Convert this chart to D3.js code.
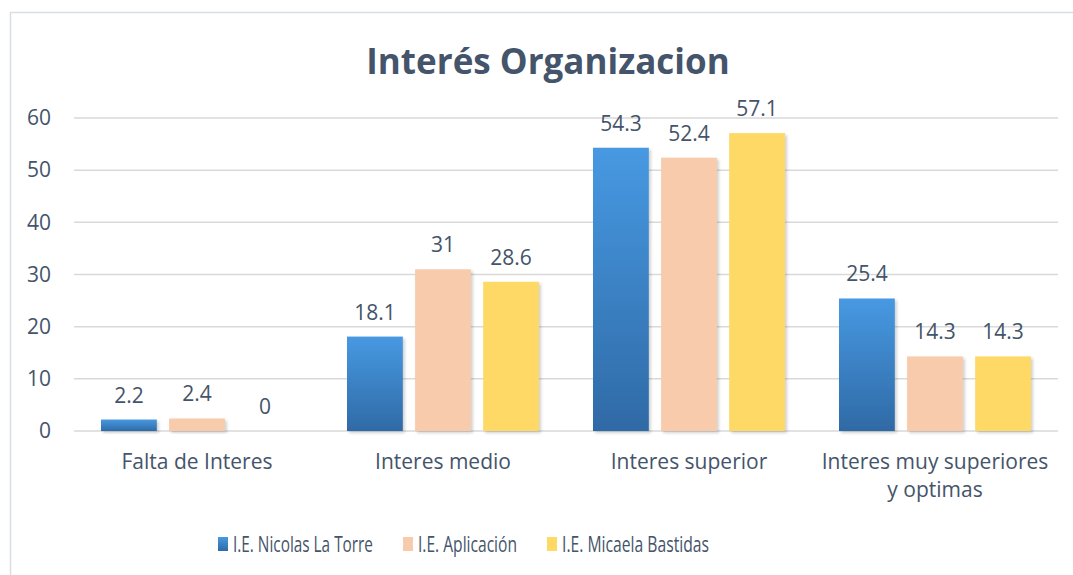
<!DOCTYPE html>
<html>
<head>
<meta charset="utf-8">
<script src="https://cdn.jsdelivr.net/npm/d3@7"></script>
<style>
  body { margin: 0; background: #fff; }
  text { font-family: "Open Sans", sans-serif; fill: #44546a; }
</style>
</head>
<body>
<script>
// Data
let categories = ["Falta de Interes", "Interes medio", "Interes superior", "Interes muy superiores y optimas"];
let seriesNames = ["I.E. Nicolas La Torre", "I.E. Aplicación", "I.E. Micaela Bastidas"];
let nicolas = [2.2, 18.1, 54.3, 25.4];
let aplicacion = [2.4, 31, 52.4, 14.3];
let micaela = [0, 28.6, 57.1, 14.3];
let yTicks = [0, 10, 20, 30, 40, 50, 60];

let seriesValues = [nicolas, aplicacion, micaela];
let fills = ["url(#blueGrad)", "#f8cbad", "#ffd966"];

function drawChart() {
  let width = 1073;
  let height = 575;
  let margin = {top: 118, right: 15, bottom: 144, left: 74};

  let svg = d3.select("body")
    .append("svg")
    .attr("width", width)
    .attr("height", height);

  let defs = svg.append("defs");
  let grad = defs.append("linearGradient")
    .attr("id", "blueGrad")
    .attr("x1", 0).attr("y1", 0).attr("x2", 0).attr("y2", 1);
  grad.append("stop").attr("offset", "0%").attr("stop-color", "#4799e2");
  grad.append("stop").attr("offset", "100%").attr("stop-color", "#2f6aa6");

  let shadow = defs.append("filter").attr("id", "shadow")
    .attr("x", "-10%").attr("y", "-10%").attr("width", "130%").attr("height", "130%");
  shadow.append("feDropShadow")
    .attr("dx", 2).attr("dy", 2).attr("stdDeviation", 1.5)
    .attr("flood-color", "#000").attr("flood-opacity", 0.18);

  // chart border
  svg.append("rect")
    .attr("x", 10.5).attr("y", 12.5)
    .attr("width", 1080).attr("height", 600)
    .attr("fill", "none")
    .attr("stroke", "#d9dde5")
    .attr("stroke-width", 1.5);

  // title
  svg.append("text")
    .attr("x", 548)
    .attr("y", 74)
    .attr("text-anchor", "middle")
    .style("font-size", "35px")
    .style("font-weight", "bold")
    .text("Interés Organizacion");

  let x0 = d3.scaleBand()
    .domain(categories)
    .range([margin.left, width - margin.right]);

  let x1 = d3.scaleBand()
    .domain(d3.range(seriesNames.length))
    .range([0, 192])
    .paddingInner(0.18);

  let y = d3.scaleLinear()
    .domain([0, 60])
    .range([height - margin.bottom, margin.top]);

  // gridlines
  svg.append("g")
    .selectAll("line")
    .data(yTicks)
    .enter()
    .append("line")
    .attr("x1", margin.left)
    .attr("x2", width - margin.right)
    .attr("y1", d => y(d))
    .attr("y2", d => y(d))
    .attr("stroke", "#d9d9d9")
    .attr("stroke-width", 1.5);

  // y axis labels
  let yAxis = d3.axisLeft(y).tickValues(yTicks).tickSize(0).tickPadding(23);
  let yg = svg.append("g")
    .attr("transform", `translate(${margin.left},0)`)
    .call(yAxis);
  yg.select(".domain").remove();
  yg.selectAll("text")
    .style("font-size", "21px")
    .style("fill", "#44546a")
    .style("font-family", "Open Sans, sans-serif");

  // bars
  let groupOffset = (x0.bandwidth() - 192) / 2;
  seriesValues.forEach((vals, si) => {
    let g = svg.append("g");
    g.selectAll("rect")
      .data(vals)
      .enter()
      .append("rect")
      .attr("x", (d, i) => x0(categories[i]) + groupOffset + x1(si))
      .attr("y", d => y(d))
      .attr("width", x1.bandwidth())
      .attr("height", d => y(0) - y(d))
      .attr("fill", fills[si])
      .attr("filter", "url(#shadow)");

    g.selectAll("text")
      .data(vals)
      .enter()
      .append("text")
      .attr("x", (d, i) => x0(categories[i]) + groupOffset + x1(si) + x1.bandwidth() / 2)
      .attr("y", d => y(d) - 17)
      .attr("text-anchor", "middle")
      .style("font-size", "21px")
      .text(d => d);
  });

  // category labels
  let catG = svg.append("g");
  categories.forEach(c => {
    let lines = c == "Interes muy superiores y optimas" ? ["Interes muy superiores", "y optimas"] : [c];
    let t = catG.append("text")
      .attr("x", x0(c) + x0.bandwidth() / 2)
      .attr("y", y(0) + 38)
      .attr("text-anchor", "middle")
      .style("font-size", "21px");
    lines.forEach((l, i) => {
      t.append("tspan")
        .attr("x", x0(c) + x0.bandwidth() / 2)
        .attr("dy", i == 0 ? 0 : 28)
        .text(l);
    });
  });

  // legend (text is narrow in the original, so squeeze it)
  let legendX = [218, 403, 547];
  let legendW = [140, 99, 147];
  let legend = svg.append("g");
  seriesNames.forEach((name, i) => {
    legend.append("rect")
      .attr("x", legendX[i])
      .attr("y", 537)
      .attr("width", 10)
      .attr("height", 14)
      .attr("fill", fills[i]);
    legend.append("text")
      .attr("x", legendX[i] + 15)
      .attr("y", 552)
      .attr("textLength", legendW[i])
      .attr("lengthAdjust", "spacingAndGlyphs")
      .style("font-size", "21px")
      .text(name);
  });
}

drawChart();
</script>
</body>
</html>
